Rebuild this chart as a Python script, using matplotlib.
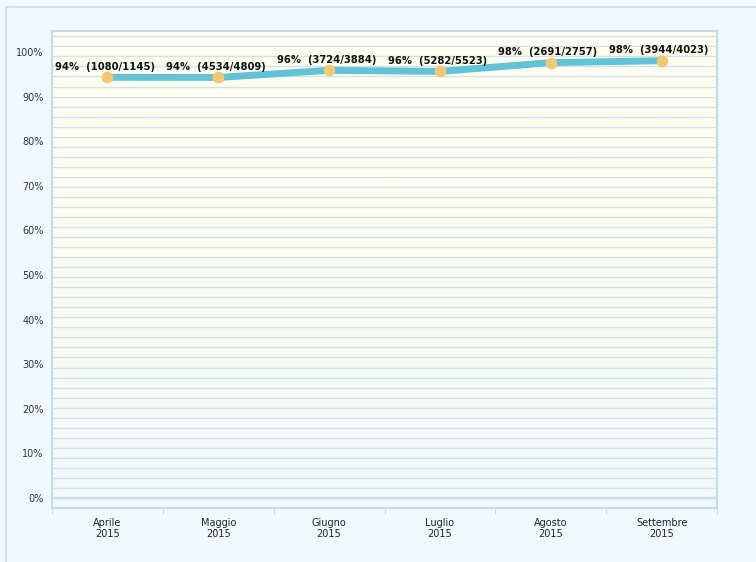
import matplotlib.pyplot as plt
import numpy as np
from matplotlib.patches import Rectangle
from matplotlib.colors import LinearSegmentedColormap

months = ["Aprile\n2015", "Maggio\n2015", "Giugno\n2015", "Luglio\n2015", "Agosto\n2015", "Settembre\n2015"]
ok = [1080, 4534, 3724, 5282, 2691, 3944]
total = [1145, 4809, 3884, 5523, 2757, 4023]
pct = [100.0 * a / b for a, b in zip(ok, total)]

plt.rcParams["font.family"] = ["Verdana", "DejaVu Sans"]

fig = plt.figure(figsize=(7.56, 5.62), dpi=100)
fig.patch.set_facecolor("#eff9ff")
# light border of the chart container
fig.patches.append(Rectangle((6 / 756, -0.1), 2, 1 - 7 / 562 + 0.1, transform=fig.transFigure,
                             facecolor="none", edgecolor="#c3e2f2", linewidth=1.2))

ax = fig.add_axes([52 / 756, 1 - 508 / 562, (717 - 52) / 756, (508 - 31) / 562])
ymin, ymax = -2.25, 104.7
ax.set_xlim(-0.5, 5.5)
ax.set_ylim(ymin, ymax)

# background gradient: pale yellow at top, pale blue at bottom
cmap = LinearSegmentedColormap.from_list("bg", ["#f0f8fc", "#f6fbf2", "#fefef0", "#fffff0"])
grad = np.linspace(0, 1, 256).reshape(-1, 1)
ax.imshow(grad, aspect="auto", cmap=cmap, origin="lower",
          extent=[-0.5, 5.5, ymin, ymax], zorder=0)

# horizontal grid lines
for y in np.arange(0, ymax, 2.25):
    ax.axhline(y, color="#d0e2ea", linewidth=1.0, zorder=1)
ax.axhline(0, color="#c8dde8", linewidth=1.6, zorder=1)

x = np.arange(len(months))
ax.plot(x, pct, color="#63c3d6", linewidth=5, solid_capstyle="round",
        solid_joinstyle="round", zorder=3)
ax.scatter(x, pct, s=70, color="#f5c76e", zorder=4, linewidths=0)

for xi, p, a, b in zip(x, pct, ok, total):
    ax.annotate(f"{p:.0f}%  ({a}/{b})", (xi, p), xytext=(-2, 4), textcoords="offset points",
                ha="center", va="bottom", fontsize=7.2, fontweight="bold", color="#111111", zorder=5)

ax.set_yticks(np.arange(0, 101, 10))
ax.set_yticklabels([f"{v}%" for v in range(0, 101, 10)])
ax.set_xticks(x)
ax.set_xticklabels(months)
ax.set_xticks(np.arange(-0.5, 5.6, 1), minor=True)
ax.tick_params(axis="y", length=0, labelsize=7, labelcolor="#333333", pad=6)
ax.tick_params(axis="x", which="major", length=0, labelsize=7, labelcolor="#222222", pad=7)
ax.tick_params(axis="x", which="minor", length=4, color="#c3d8e2", direction="out")
ax.tick_params(axis="x", which="minor", labelbottom=False)

for s in ax.spines.values():
    s.set_color("#c5dde8")
    s.set_linewidth(1.5)

fig.savefig("out.png", dpi=100, facecolor=fig.get_facecolor())
